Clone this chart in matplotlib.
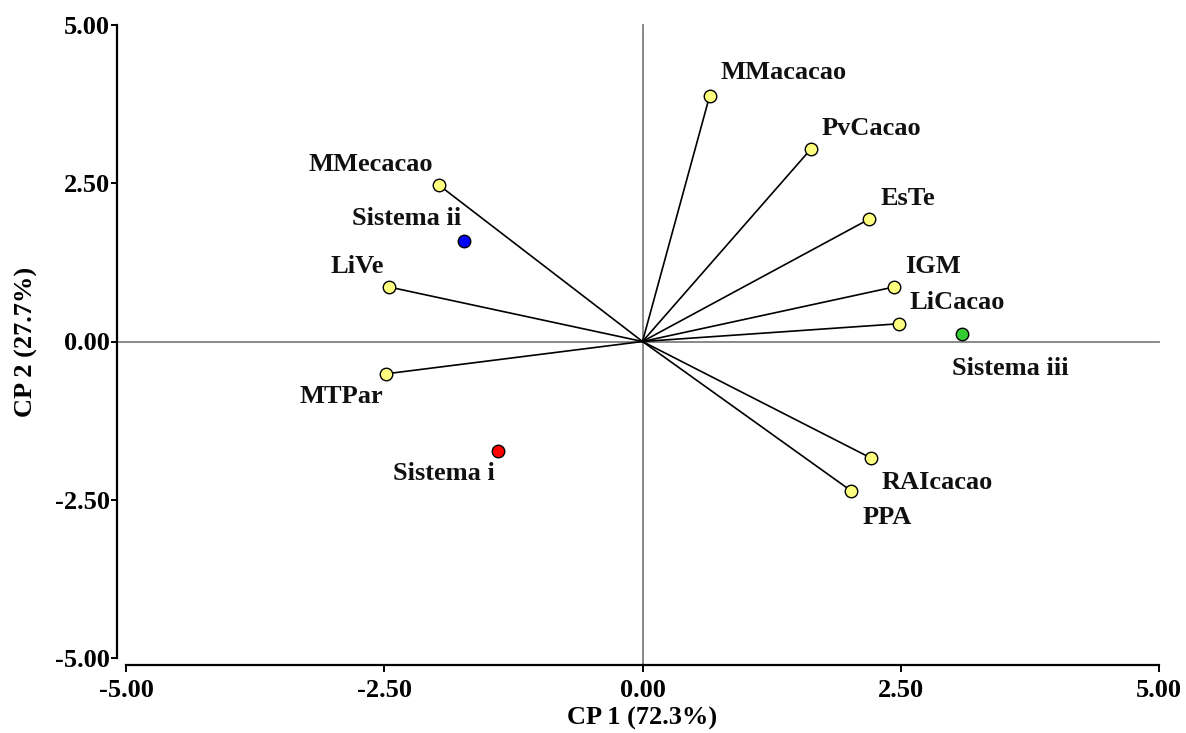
import matplotlib
matplotlib.use("Agg")
import matplotlib.pyplot as plt

# Variable loadings (CP 1, CP 2)
variables = ["MMacacao", "PvCacao", "EsTe", "IGM", "LiCacao",
             "RAIcacao", "PPA", "MTPar", "LiVe", "MMecacao"]
var_cp1 = [0.65, 1.63, 2.19, 2.43, 2.48, 2.21, 2.02, -2.48, -2.45, -1.97]
var_cp2 = [3.88, 3.04, 1.93, 0.86, 0.28, -1.84, -2.36, -0.51, 0.86, 2.47]

# System scores (CP 1, CP 2)
systems = ["Sistema i", "Sistema ii", "Sistema iii"]
sys_cp1 = [-1.40, -1.73, 3.09]
sys_cp2 = [-1.73, 1.59, 0.12]
sys_colors = ["#ff0000", "#0000ff", "#33cc33"]

ticks = [-5.0, -2.5, 0.0, 2.5, 5.0]
tick_labels = ["-5.00", "-2.50", "0.00", "2.50", "5.00"]

# label placement: offset in pixels and horizontal alignment
var_offsets = {
    "MMacacao": (11, 23, "left"), "PvCacao": (11, 21, "left"),
    "EsTe": (12, 21, "left"), "IGM": (12, 21, "left"),
    "LiCacao": (11, 21, "left"), "RAIcacao": (11, -25, "left"),
    "PPA": (11, -27, "left"), "MTPar": (-3, -23, "right"),
    "LiVe": (-6, 21, "right"), "MMecacao": (-6, 21, "right"),
}
sys_offsets = {
    "Sistema i": (-3, -22, "right"), "Sistema ii": (-3, 22, "right"),
    "Sistema iii": (-10, -35, "left"),
}

FS = 19
plt.rcParams["font.family"] = ["Liberation Serif", "DejaVu Serif"]
plt.rcParams["font.weight"] = "bold"

fig = plt.figure(figsize=(11.86, 7.33), dpi=100)
W, H = 1186, 733
ax = fig.add_axes([126 / W, (H - 658) / H, (1159 - 126) / W, (658 - 25) / H])
ax.set_xlim(-5, 5)
ax.set_ylim(-5, 5)

# reference lines through the origin
ax.axhline(0, xmin=-9 / 1033, xmax=1, color="#808080", lw=1.3, clip_on=False, zorder=1)
ax.axvline(0, ymin=-7 / 633, ymax=1, color="#808080", lw=1.3, clip_on=False, zorder=1)

for name, x, y in zip(variables, var_cp1, var_cp2):
    ax.plot([0, x], [0, y], color="black", lw=1.2, zorder=2)
    ax.plot(x, y, "o", ms=9, mfc="#ffff80", mec="black", mew=1.0, zorder=3)
    dx, dy, ha = var_offsets[name]
    ax.annotate(name, (x, y), xytext=(dx, dy), textcoords="offset pixels",
                ha=ha, va="center", fontsize=FS, fontweight="bold", color="#111111")

for name, x, y, c in zip(systems, sys_cp1, sys_cp2, sys_colors):
    ax.plot(x, y, "o", ms=9, mfc=c, mec="black", mew=1.0, zorder=3)
    dx, dy, ha = sys_offsets[name]
    ax.annotate(name, (x, y), xytext=(dx, dy), textcoords="offset pixels",
                ha=ha, va="center", fontsize=FS, fontweight="bold", color="#111111")

for side in ["top", "right"]:
    ax.spines[side].set_visible(False)
ax.spines["left"].set_position(("outward", 6.5))
ax.spines["bottom"].set_position(("outward", 5))
for side in ["left", "bottom"]:
    ax.spines[side].set_linewidth(1.6)

ax.set_xticks(ticks)
ax.set_xticklabels(tick_labels)
ax.set_yticks(ticks)
ax.set_yticklabels(tick_labels)
ax.tick_params(axis="x", direction="out", length=5, width=1.4,
               labelsize=FS, pad=5)
ax.tick_params(axis="y", direction="out", length=4, width=1.4,
               labelsize=FS, pad=1)
for lab in ax.get_xticklabels() + ax.get_yticklabels():
    lab.set_fontweight("bold")

ax.set_xlabel("CP 1 (72.3%)", fontsize=FS, fontweight="bold", labelpad=4)
ax.set_ylabel("CP 2 (27.7%)", fontsize=FS, fontweight="bold", labelpad=12)

fig.savefig("out.png", dpi=100)
